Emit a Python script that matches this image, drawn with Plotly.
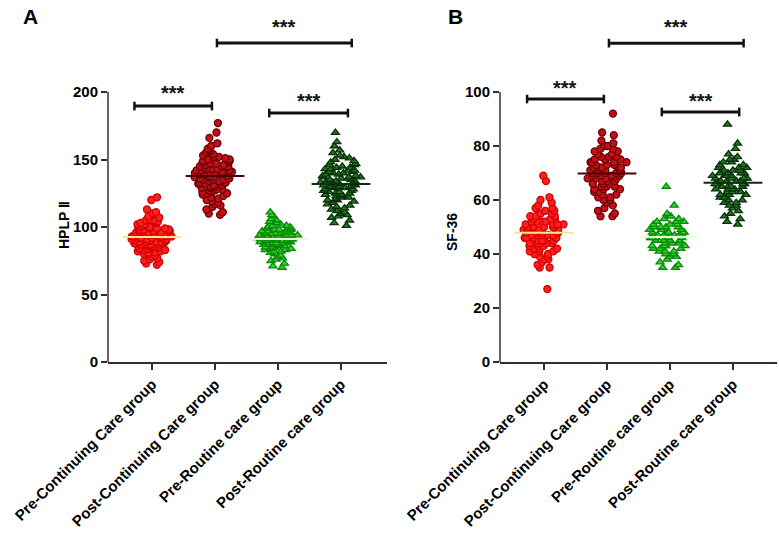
import numpy as np
import plotly.graph_objects as go

categories = ["Pre-Continuing Care group", "Post-Continuing Care group",
              "Pre-Routine care group", "Post-Routine care group"]

# Panel A: HPLP II
hplp_pre_cont = [122, 120, 113, 111, 110, 108, 107, 106, 105, 105, 104, 104, 103, 103, 102, 102, 101, 101,
                 100, 100, 100, 99, 99, 99, 98, 98, 98, 98, 97, 97, 97, 96, 96, 96, 96, 95, 95, 95, 95,
                 94, 94, 94, 94, 93, 93, 93, 93, 93, 92, 92, 92, 92, 92, 91, 91, 91, 91, 91, 90, 90, 90,
                 90, 90, 89, 89, 89, 89, 88, 88, 88, 88, 87, 87, 87, 87, 86, 86, 86, 85, 85, 85, 84, 84,
                 84, 83, 83, 82, 82, 81, 81, 80, 80, 79, 78, 77, 76, 75, 74, 73, 72]
hplp_post_cont = [177, 170, 166, 162, 160, 158, 157, 156, 155, 154, 153, 152, 152, 151, 150, 150, 149, 149,
                  148, 148, 147, 147, 146, 146, 145, 145, 145, 144, 144, 143, 143, 143, 142, 142, 142, 141,
                  141, 140, 140, 140, 139, 139, 139, 138, 138, 138, 137, 137, 137, 136, 136, 136, 135, 135,
                  135, 134, 134, 133, 133, 133, 132, 132, 131, 131, 130, 130, 129, 129, 128, 128, 127, 127,
                  126, 126, 125, 125, 124, 123, 122, 121, 120, 119, 118, 117, 116, 115, 113, 111, 110, 109]
hplp_pre_rout = [111, 109, 108, 106, 105, 104, 103, 102, 101, 101, 100, 100, 99, 99, 98, 98, 98, 97, 97,
                 97, 96, 96, 96, 96, 95, 95, 95, 95, 94, 94, 94, 94, 93, 93, 93, 93, 93, 92, 92, 92, 92,
                 92, 91, 91, 91, 91, 91, 90, 90, 90, 90, 90, 89, 89, 89, 89, 88, 88, 88, 88, 87, 87, 87,
                 86, 86, 86, 85, 85, 85, 84, 84, 83, 83, 82, 82, 81, 80, 79, 78, 77, 76, 75, 73, 71, 70]
hplp_post_rout = [170, 163, 160, 157, 155, 153, 152, 151, 150, 149, 148, 147, 146, 146, 145, 144, 144, 143,
                  143, 142, 142, 141, 141, 140, 140, 139, 139, 138, 138, 137, 137, 137, 136, 136, 135, 135,
                  134, 134, 134, 133, 133, 132, 132, 132, 131, 131, 130, 130, 130, 129, 129, 128, 128, 127,
                  127, 126, 126, 125, 125, 124, 124, 123, 123, 122, 122, 121, 120, 120, 119, 118, 117, 116,
                  115, 114, 113, 112, 111, 110, 109, 108, 107, 105, 103, 101]

# Panel B: SF-36
sf_pre_cont = [69, 67, 61, 60, 59, 58, 57, 57, 56, 56, 55, 55, 54, 54, 54, 53, 53, 53, 52, 52, 52, 52, 51,
               51, 51, 51, 50, 50, 50, 50, 50, 49, 49, 49, 49, 49, 48, 48, 48, 48, 48, 47, 47, 47, 47, 47,
               46, 46, 46, 46, 46, 45, 45, 45, 45, 44, 44, 44, 44, 43, 43, 43, 42, 42, 42, 41, 41, 41, 40,
               40, 39, 39, 38, 38, 37, 36, 35, 35, 27]
sf_post_cont = [92, 85, 84, 82, 81, 80, 80, 79, 79, 78, 78, 77, 77, 76, 76, 76, 75, 75, 75, 74, 74, 74, 74,
                73, 73, 73, 73, 72, 72, 72, 72, 71, 71, 71, 71, 70, 70, 70, 70, 70, 69, 69, 69, 69, 68, 68,
                68, 68, 67, 67, 67, 66, 66, 66, 65, 65, 65, 64, 64, 64, 63, 63, 62, 62, 61, 61, 60, 60, 59,
                58, 57, 56, 55, 54, 54]
sf_pre_rout = [65, 58, 55, 54, 54, 53, 53, 52, 52, 52, 51, 51, 51, 50, 50, 50, 50, 49, 49, 49, 49, 48, 48,
               48, 48, 48, 47, 47, 47, 47, 47, 46, 46, 46, 46, 46, 45, 45, 45, 45, 44, 44, 44, 44, 43, 43,
               43, 43, 42, 42, 42, 41, 41, 41, 40, 40, 39, 39, 38, 37, 36, 35, 35]
sf_post_rout = [88, 81, 79, 77, 76, 75, 75, 74, 74, 73, 73, 72, 72, 72, 71, 71, 71, 70, 70, 70, 70, 69, 69,
                69, 69, 68, 68, 68, 68, 67, 67, 67, 67, 66, 66, 66, 66, 65, 65, 65, 65, 64, 64, 64, 64, 63,
                63, 63, 62, 62, 62, 61, 61, 60, 60, 59, 59, 58, 58, 57, 56, 55, 54, 53, 52, 51]

panel_a = [hplp_pre_cont, hplp_post_cont, hplp_pre_rout, hplp_post_rout]
panel_b = [sf_pre_cont, sf_post_cont, sf_pre_rout, sf_post_rout]

# significance brackets: (x_start, x_end, y_line, y_text)
brackets_a = [(-0.28, 0.95, 189.6, 199.5), (1.86, 3.11, 184.4, 193.5), (1.03, 3.17, 236.3, 248)]
brackets_b = [(-0.27, 0.95, 97.4, 101.6), (1.87, 3.10, 92.6, 96.8), (1.03, 3.17, 118.1, 124.0)]

fill_colors = ["#ff1f1f", "#c40f14", "#2fd62a", "#1f7a1f"]
edge_colors = ["#d00000", "#6a0008", "#0a8a0a", "#0a300a"]
symbols = ["circle", "circle", "triangle-up", "triangle-up"]
mean_colors = ["#ffe48a", "#4a0005", "#e8ffd8", "#0b2e0b"]

AXC = "#3d2b2b"
FONT = "Liberation Sans"

fig = go.Figure()

def add_panel(data, xa, ya):
    for i, vals in enumerate(data):
        fig.add_trace(go.Box(
            x=[i] * len(vals), y=vals, xaxis=xa, yaxis=ya,
            boxpoints="all", jitter=1, pointpos=0, width=0.66,
            fillcolor="rgba(0,0,0,0)", line=dict(color="rgba(0,0,0,0)", width=0),
            marker=dict(symbol=symbols[i], size=7, color=fill_colors[i],
                        line=dict(color=edge_colors[i], width=1.3)),
            hoverinfo="skip", showlegend=False))
    for i, vals in enumerate(data):
        fig.add_trace(go.Scatter(
            x=[i], y=[float(np.mean(vals))], xaxis=xa, yaxis=ya, mode="markers",
            marker=dict(symbol="line-ew", size=42, line=dict(color=mean_colors[i], width=2)),
            hoverinfo="skip", showlegend=False))

add_panel(panel_a, "x", "y")
add_panel(panel_b, "x2", "y2")

W, H = 779, 534
ydom = [1 - 362 / H, 1 - 20 / H]
xdom_a = [108 / W, 387 / W]
xdom_b = [500 / W, 777 / W]

tfont = dict(family=FONT, size=15, color="#000", weight="bold")
xcommon = dict(tickmode="array", tickvals=[0, 1, 2, 3], ticktext=categories,
               tickangle=-45, showline=True, linecolor=AXC, linewidth=1.5, ticks="outside",
               ticklen=6, tickwidth=1.5, tickcolor=AXC, showgrid=False, zeroline=False,
               tickfont=dict(family=FONT, size=15, color="#000", weight="bold"), automargin=False)
ycommon = dict(showline=False, ticks="outside", ticklen=6, tickwidth=1.5, tickcolor=AXC,
               showgrid=False, zeroline=False, tickfont=tfont, automargin=False)

fig.update_layout(
    width=W, height=H, margin=dict(l=0, r=0, t=0, b=0),
    paper_bgcolor="white", plot_bgcolor="white",
    xaxis=dict(domain=xdom_a, anchor="y", range=[-0.70, 3.73], **xcommon),
    xaxis2=dict(domain=xdom_b, anchor="y2", range=[-0.70, 3.70], **xcommon),
    yaxis=dict(domain=ydom, anchor="x", range=[0, 342 / 1.35], tickvals=[0, 50, 100, 150, 200], **ycommon),
    yaxis2=dict(domain=ydom, anchor="x2", range=[0, 342 / 2.7], tickvals=[0, 20, 40, 60, 80, 100], **ycommon),
)

shapes = []
annotations = []
# y-axis lines that stop at the top tick
shapes.append(dict(type="line", xref="x domain", yref="y", x0=0, x1=0, y0=0, y1=200,
                   line=dict(color=AXC, width=1.5)))
shapes.append(dict(type="line", xref="x2 domain", yref="y2", x0=0, x1=0, y0=0, y1=100,
                   line=dict(color=AXC, width=1.5)))

def add_brackets(br, xr, yr, cap):
    for x0, x1, yl, yt in br:
        shapes.append(dict(type="line", xref=xr, yref=yr, x0=x0, x1=x1, y0=yl, y1=yl,
                           line=dict(color="#151010", width=3)))
        for xx in (x0, x1):
            shapes.append(dict(type="line", xref=xr, yref=yr, x0=xx, x1=xx, y0=yl - cap, y1=yl + cap,
                               line=dict(color="#151010", width=2.5)))
        annotations.append(dict(x=(x0 + x1) / 2, y=yt, xref=xr, yref=yr, text="***",
                                xanchor="center", yanchor="middle", showarrow=False,
                                font=dict(family=FONT, size=20, color="#111", weight="bold")))

add_brackets(brackets_a, "x", "y", 3.2)
add_brackets(brackets_b, "x2", "y2", 1.6)

annotations += [
    dict(x=30 / W, y=1 - 17 / H, xref="paper", yref="paper", text="A", showarrow=False,
         xanchor="center", yanchor="middle", font=dict(family=FONT, size=21, color="#000", weight="bold")),
    dict(x=455 / W, y=1 - 17 / H, xref="paper", yref="paper", text="B", showarrow=False,
         xanchor="center", yanchor="middle", font=dict(family=FONT, size=21, color="#000", weight="bold")),
    dict(x=64 / W, y=1 - 225 / H, xref="paper", yref="paper", text="HPLP Ⅱ", textangle=-90,
         xanchor="center", yanchor="middle", showarrow=False,
         font=dict(family=FONT, size=14, color="#000", weight="bold")),
    dict(x=452 / W, y=1 - 232 / H, xref="paper", yref="paper", text="SF-36", textangle=-90,
         xanchor="center", yanchor="middle", showarrow=False,
         font=dict(family=FONT, size=14, color="#000", weight="bold")),
]

fig.update_layout(shapes=shapes, annotations=annotations)
fig.write_html("out.html")
